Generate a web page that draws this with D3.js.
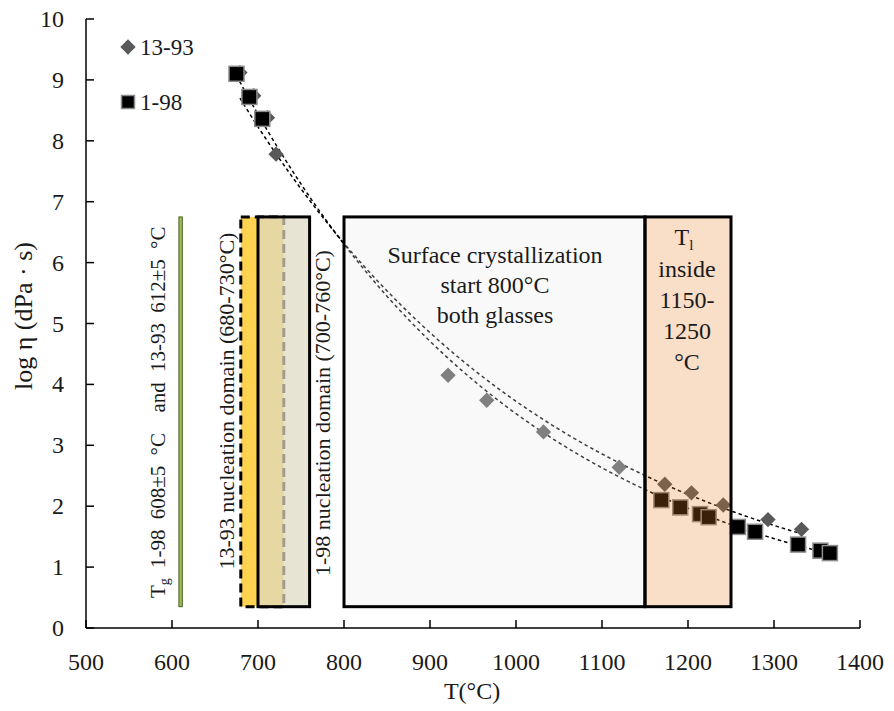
<!DOCTYPE html>
<html>
<head>
<meta charset="utf-8">
<script src="https://cdn.jsdelivr.net/npm/d3@7"></script>
<style>
  html, body { margin: 0; padding: 0; background: #fff; }
  svg { display: block; font-family: "Liberation Serif", "DejaVu Serif", serif; }
</style>
</head>
<body>
<svg id="chart" width="894" height="711"></svg>
<script>
// Viscosity (log η) versus temperature for two glasses
const temps1393 = [679, 695, 711, 721, 921, 966, 1032, 1120, 1173, 1204, 1241, 1293, 1332];
const logEta1393 = [9.12, 8.74, 8.38, 7.78, 4.15, 3.74, 3.22, 2.64, 2.36, 2.22, 2.02, 1.78, 1.62];

const temps198 = [675, 690, 705, 1169, 1191, 1214, 1224, 1258, 1278, 1328, 1354, 1365];
const logEta198 = [9.10, 8.72, 8.36, 2.10, 1.98, 1.87, 1.82, 1.66, 1.58, 1.37, 1.27, 1.23];

const seriesNames = ["13-93", "1-98"];
const xTicks = [500, 600, 700, 800, 900, 1000, 1100, 1200, 1300, 1400];
const yTicks = [0, 1, 2, 3, 4, 5, 6, 7, 8, 9, 10];

// Temperature bands (°C)
const tgBand = [608, 612];
const nucleation1393 = [680, 730];
const nucleation198 = [700, 760];
const surfaceCryst = [800, 1150];
const liquidusBand = [1150, 1250];
const bandLogRange = [0.35, 6.75];

const svg = d3.select("#chart");
const x = d3.scaleLinear().domain([500, 1400]).range([86, 860]);
const y = d3.scaleLinear().domain([0, 10]).range([628, 19]);
const ink = "#1a1a1a";

// Exponential trendline: ln(y) = a + b·T, least squares
function expFit(xs, ys) {
  const n = xs.length;
  const ly = ys.map(Math.log);
  const mx = d3.mean(xs), my = d3.mean(ly);
  let sxy = 0, sxx = 0;
  for (let i = 0; i < n; i++) { sxy += (xs[i] - mx) * (ly[i] - my); sxx += (xs[i] - mx) ** 2; }
  const b = sxy / sxx, a = my - b * mx;
  return t => Math.exp(a + b * t);
}

const line = d3.line().x(d => x(d[0])).y(d => y(d[1]));
function trend(xs, ys) {
  const f = expFit(xs, ys);
  const t0 = d3.min(xs), t1 = d3.max(xs);
  return d3.range(0, 201).map(i => { const t = t0 + (t1 - t0) * i / 200; return [t, f(t)]; });
}

const plot = svg.append("g");

// Trendlines
[[temps1393, logEta1393], [temps198, logEta198]].forEach(([xs, ys]) => {
  plot.append("path")
    .attr("d", line(trend(xs, ys)))
    .attr("fill", "none").attr("stroke", "#000")
    .attr("stroke-width", 1.5).attr("stroke-dasharray", "3.5,3");
});

// Markers
const diamond = d3.symbol().type(d3.symbolDiamond2).size(150);
plot.selectAll("path.d1393").data(temps1393.map((t, i) => [t, logEta1393[i]]))
  .join("path").attr("class", "d1393")
  .attr("d", diamond)
  .attr("transform", d => `translate(${x(d[0])},${y(d[1])})`)
  .attr("fill", "#595959");

plot.selectAll("rect.s198").data(temps198.map((t, i) => [t, logEta198[i]]))
  .join("rect").attr("class", "s198")
  .attr("x", d => x(d[0]) - 7.5).attr("y", d => y(d[1]) - 7.5)
  .attr("width", 15).attr("height", 15)
  .attr("fill", "#000").attr("stroke", "#8c8c8c").attr("stroke-width", 1.5);

// Bands
const bTop = y(bandLogRange[1]), bBot = y(bandLogRange[0]);
function band(range, attrs) {
  const r = plot.append("rect")
    .attr("x", x(range[0])).attr("y", bTop)
    .attr("width", x(range[1]) - x(range[0])).attr("height", bBot - bTop);
  Object.entries(attrs).forEach(([k, v]) => r.attr(k, v));
  return r;
}

band(tgBand, { fill: "#9bbb59", stroke: "#4f6228", "stroke-width": 1 });
band(nucleation1393, { fill: "#ffd34f", stroke: "#000", "stroke-width": 3, "stroke-dasharray": "9,5" });
band(nucleation198, { fill: "rgb(222,218,196)", "fill-opacity": 0.72, stroke: "#000", "stroke-width": 3 });
band(surfaceCryst, { fill: "rgb(232,232,232)", "fill-opacity": 0.27, stroke: "#000", "stroke-width": 3 });
band(liquidusBand, { fill: "rgb(232,124,36)", "fill-opacity": 0.25, stroke: "#000", "stroke-width": 3 });

// Axes
const axisG = svg.append("g").attr("stroke", "#000").attr("stroke-width", 1.5);
axisG.append("line").attr("x1", x(500)).attr("x2", x(1400)).attr("y1", y(0)).attr("y2", y(0));
axisG.append("line").attr("x1", x(500)).attr("x2", x(500)).attr("y1", y(0)).attr("y2", y(10));
axisG.selectAll("line.xt").data(xTicks).join("line").attr("class", "xt")
  .attr("x1", d => x(d)).attr("x2", d => x(d)).attr("y1", y(0)).attr("y2", y(0) - 8);
axisG.selectAll("line.yt").data(yTicks).join("line").attr("class", "yt")
  .attr("x1", x(500)).attr("x2", x(500) + 8).attr("y1", d => y(d)).attr("y2", d => y(d));

svg.selectAll("text.xl").data(xTicks).join("text").attr("class", "xl")
  .attr("x", d => x(d)).attr("y", 670).attr("text-anchor", "middle")
  .attr("font-size", 24).attr("fill", ink).text(d => d);
svg.selectAll("text.yl").data(yTicks).join("text").attr("class", "yl")
  .attr("x", 64).attr("y", d => y(d) + 8).attr("text-anchor", "end")
  .attr("font-size", 24).attr("fill", ink).text(d => d);

svg.append("text").attr("x", 472).attr("y", 699).attr("text-anchor", "middle")
  .attr("font-size", 24).attr("fill", ink).text("T(°C)");
svg.append("text").attr("transform", "translate(32,316) rotate(-90)")
  .attr("text-anchor", "middle").attr("font-size", 26).attr("fill", ink)
  .text("log η (dPa · s)");

// Legend
svg.append("path").attr("d", diamond).attr("transform", "translate(128,47)").attr("fill", "#595959");
svg.append("text").attr("x", 140).attr("y", 55).attr("font-size", 23).attr("fill", ink).text(seriesNames[0]);
svg.append("rect").attr("x", 121.5).attr("y", 95.5).attr("width", 13).attr("height", 13)
  .attr("fill", "#000").attr("stroke", "#8c8c8c").attr("stroke-width", 1.5);
svg.append("text").attr("x", 140).attr("y", 110).attr("font-size", 23).attr("fill", ink).text(seriesNames[1]);

// Band annotations
const tgText = svg.append("text").attr("transform", "translate(165,598) rotate(-90)")
  .attr("text-anchor", "start").attr("font-size", 21).attr("fill", ink)
  .style("white-space", "pre").style("word-spacing", "5px");
tgText.append("tspan").text("T");
tgText.append("tspan").attr("font-size", 14).attr("dy", 4).text("g");
tgText.append("tspan").attr("dy", -4).text(" 1-98 608±5 °C  and 13-93 612±5 °C");

svg.append("text").attr("transform", "translate(234,401) rotate(-90)")
  .attr("text-anchor", "middle").attr("font-size", 22).attr("fill", ink)
  .text("13-93 nucleation domain (680-730°C)");
svg.append("text").attr("transform", "translate(330,413) rotate(-90)")
  .attr("text-anchor", "middle").attr("font-size", 22).attr("fill", ink)
  .text("1-98 nucleation domain (700-760°C)");

const sc = svg.append("text").attr("text-anchor", "middle").attr("font-size", 24).attr("fill", ink);
["Surface crystallization", "start 800°C", "both glasses"].forEach((s, i) => {
  sc.append("tspan").attr("x", 495).attr("y", 263 + i * 30).text(s);
});

const tl = svg.append("text").attr("text-anchor", "middle").attr("font-size", 24).attr("fill", ink);
tl.append("tspan").attr("x", 684).attr("y", 245).text("T");
tl.append("tspan").attr("font-size", 15).attr("dy", 5).text("l");
["inside", "1150-", "1250", "°C"].forEach((s, i) => {
  tl.append("tspan").attr("x", 687).attr("y", 277 + i * 31).text(s);
});
</script>
</body>
</html>
